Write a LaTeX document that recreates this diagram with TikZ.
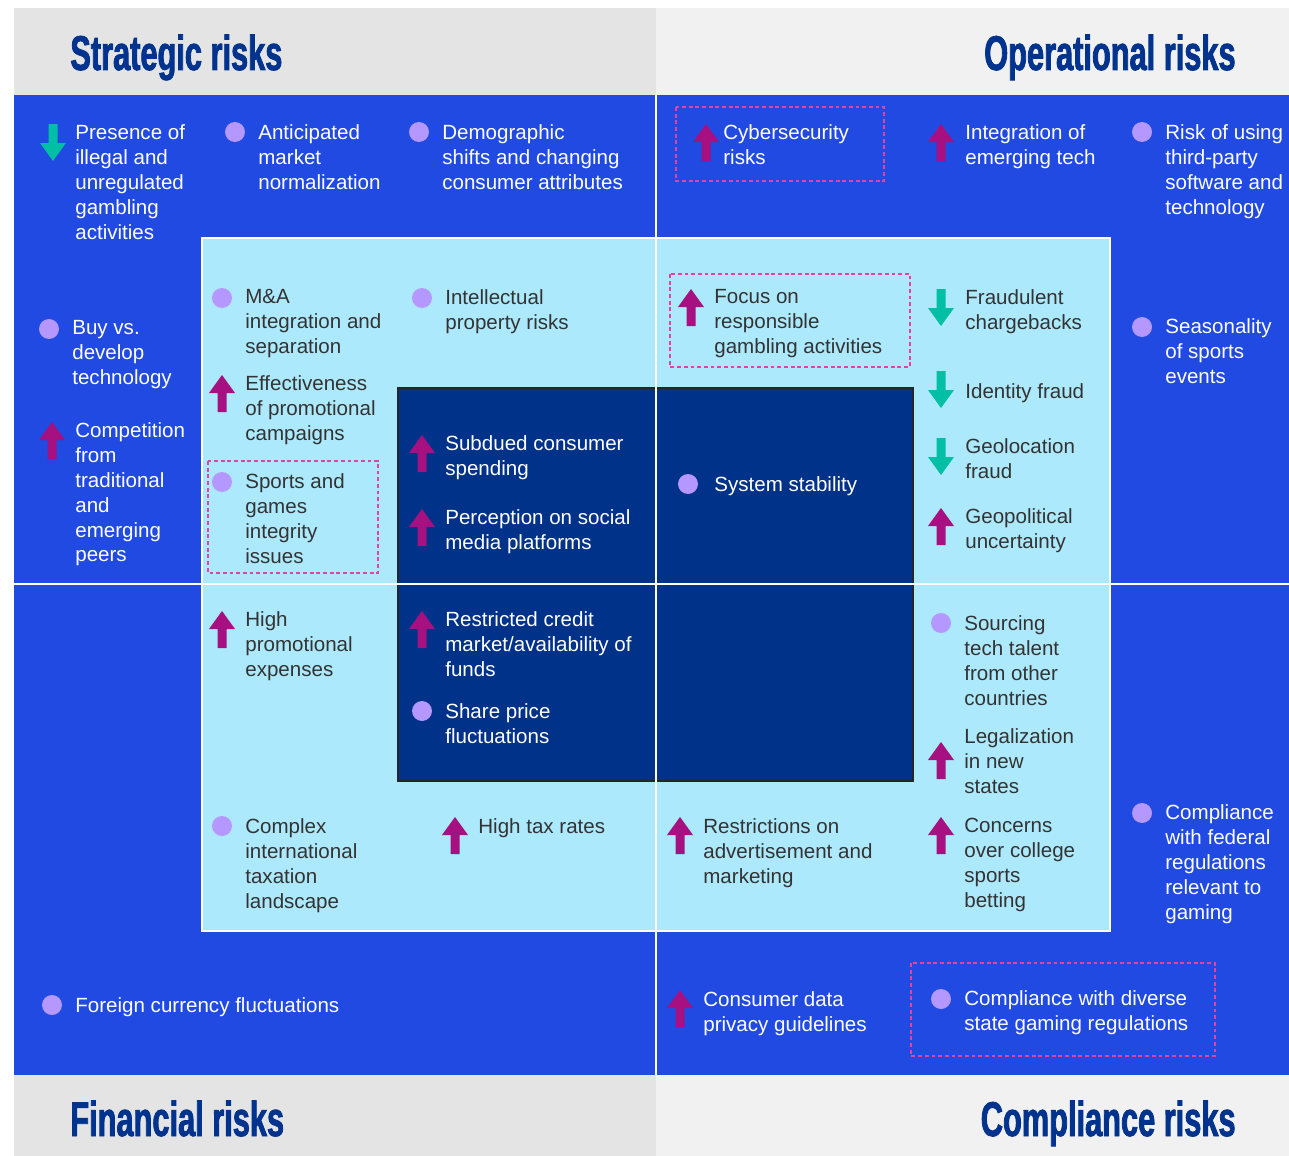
\documentclass[tikz,border=0pt]{standalone}
\usepackage{fontspec}
\setmainfont{Liberation Sans}
\newfontfamily\headfont[FakeStretch=0.63,FakeBold=1.6]{Liberation Sans}

\definecolor{bgblue}{RGB}{32,74,225}
\definecolor{midcyan}{RGB}{173,233,252}
\definecolor{corenavy}{RGB}{0,50,138}
\definecolor{headgray}{RGB}{228,228,228}
\definecolor{headlight}{RGB}{241,241,241}
\definecolor{headblue}{RGB}{0,51,141}
\definecolor{upmag}{RGB}{166,16,128}
\definecolor{downteal}{RGB}{0,191,165}
\definecolor{dotlav}{RGB}{180,152,255}
\definecolor{dashpink}{RGB}{232,64,160}
\definecolor{darktxt}{RGB}{51,51,51}

\tikzset{
  rup/.pic={\fill[upmag] (-4.5,37) -- (-4.5,18) -- (-13,18) -- (0,0) -- (13,18) -- (4.5,18) -- (4.5,37) -- cycle;},
  rdown/.pic={\fill[downteal] (-4.5,0) -- (-4.5,19) -- (-13,19) -- (0,37) -- (13,19) -- (4.5,19) -- (4.5,0) -- cycle;}
}

\begin{document}
\begin{tikzpicture}[x=0.02cm,y=-0.02cm,
  dot/.style={shape=circle, fill=dotlav, minimum size=0.4cm, inner sep=0},
  txt/.style={anchor=north west, inner sep=0, align=left, font=\fontsize{11.7}{14.2}\selectfont, text=white},
  txtd/.style={txt, text=darktxt},
  head/.style={inner sep=0, text=headblue, font=\headfont\bfseries\fontsize{27.8}{30}\selectfont},
  dashbox/.style={draw=dashpink, line width=0.6pt, dash pattern=on 2.2pt off 1.6pt}]

\useasboundingbox (0,0) rectangle (1289,1156);

% bands and quadrants
\fill[headgray] (14,8) rectangle (656,95);
\fill[headlight] (656,8) rectangle (1289,95);
\fill[bgblue] (14,95) rectangle (1289,1075);
\fill[headgray] (14,1075) rectangle (656,1156);
\fill[headlight] (656,1075) rectangle (1289,1156);
\filldraw[fill=midcyan, draw=white, line width=1.2pt] (202,238) rectangle (1110,931);
\filldraw[fill=corenavy, draw=black!85, line width=1.3pt] (398,388) rectangle (913,781);
\draw[white, line width=0.8pt] (656,95) -- (656,1075);
\draw[white, line width=0.8pt] (14,584) -- (1289,584);

\path (70,70) node (HS) [head, anchor=base west] {Strategic risks};
\path (1236,70) node (HO) [head, anchor=base east] {Operational risks};
\path (70,1136) node (HF) [head, anchor=base west] {Financial risks};
\path (1236,1136) node (HC) [head, anchor=base east] {Compliance risks};

\draw[dashbox] (676,107) rectangle (884,181);
\draw[dashbox] (670,274) rectangle (910,367);
\draw[dashbox] (208,461) rectangle (378,573);
\draw[dashbox] (911,963) rectangle (1215,1056);

% strategic
\path (53,124) pic (iS1) {rdown};
\path (75,124) node (S1) [txt] {Presence of\\illegal and\\unregulated\\gambling\\activities};
\path (235,132) node (iS2) [dot] {};
\path (258,124) node (S2) [txt] {Anticipated\\market\\normalization};
\path (419,132) node (iS3) [dot] {};
\path (442,124) node (S3) [txt] {Demographic\\shifts and changing\\consumer attributes};
\path (49,329) node (iS4) [dot] {};
\path (72,320) node (S4) [txt] {Buy vs.\\develop\\technology};
\path (52,422) pic (iS5) {rup};
\path (75,422) node (S5) [txt] {Competition\\from\\traditional\\and\\emerging\\peers};
\path (222,298) node (iS6) [dot] {};
\path (245,289) node (S6) [txtd] {M\&A\\integration and\\separation};
\path (422,298) node (iS7) [dot] {};
\path (445,289) node (S7) [txtd] {Intellectual\\property risks};
\path (222,375) pic (iS8) {rup};
\path (245,375) node (S8) [txtd] {Effectiveness\\of promotional\\campaigns};
\path (222,482) node (iS9) [dot] {};
\path (245,473) node (S9) [txtd] {Sports and\\games\\integrity\\issues};
\path (422,435) pic (iS10) {rup};
\path (445,435) node (S10) [txt] {Subdued consumer\\spending};
\path (422,509) pic (iS11) {rup};
\path (445,509) node (S11) [txt] {Perception on social\\media platforms};

% operational
\path (688,484) node (iO1) [dot] {};
\path (714,476) node (O1) [txt] {System stability};
\path (706,124) pic (iO2) {rup};
\path (723,124) node (O2) [txt] {Cybersecurity\\risks};
\path (941,124) pic (iO3) {rup};
\path (965,124) node (O3) [txt] {Integration of\\emerging tech};
\path (1142,132) node (iO4) [dot] {};
\path (1165,124) node (O4) [txt] {Risk of using\\third-party\\software and\\technology};
\path (691,289) pic (iO5) {rup};
\path (714,289) node (O5) [txtd] {Focus on\\responsible\\gambling activities};
\path (941,289) pic (iO6) {rdown};
\path (965,289) node (O6) [txtd] {Fraudulent\\chargebacks};
\path (941,371) pic (iO7) {rdown};
\path (965,383) node (O7) [txtd] {Identity fraud};
\path (941,438) pic (iO8) {rdown};
\path (965,438) node (O8) [txtd] {Geolocation\\fraud};
\path (941,508) pic (iO9) {rup};
\path (965,508) node (O9) [txtd] {Geopolitical\\uncertainty};
\path (1142,327) node (iO10) [dot] {};
\path (1165,318) node (O10) [txt] {Seasonality\\of sports\\events};

% financial
\path (222,611) pic (iF1) {rup};
\path (245,611) node (F1) [txtd] {High\\promotional\\expenses};
\path (422,611) pic (iF2) {rup};
\path (445,611) node (F2) [txt] {Restricted credit\\market/availability of\\funds};
\path (422,711) node (iF3) [dot] {};
\path (445,703) node (F3) [txt] {Share price\\fluctuations};
\path (222,826) node (iF4) [dot] {};
\path (245,818) node (F4) [txtd] {Complex\\international\\taxation\\landscape};
\path (455,817) pic (iF5) {rup};
\path (478,818) node (F5) [txtd] {High tax rates};
\path (52,1005) node (iF6) [dot] {};
\path (75,997) node (F6) [txt] {Foreign currency fluctuations};

% compliance
\path (680,817) pic (iC1) {rup};
\path (703,818) node (C1) [txtd] {Restrictions on\\advertisement and\\marketing};
\path (941,623) node (iC2) [dot] {};
\path (964,615) node (C2) [txtd] {Sourcing\\tech talent\\from other\\countries};
\path (941,742) pic (iC3) {rup};
\path (964,728) node (C3) [txtd] {Legalization\\in new\\states};
\path (941,817) pic (iC4) {rup};
\path (964,818) node (C4) [txtd] {Concerns\\over college\\sports\\betting};
\path (1142,813) node (iC5) [dot] {};
\path (1165,804) node (C5) [txt] {Compliance\\with federal\\regulations\\relevant to\\gaming};
\path (680,990) pic (iC6) {rup};
\path (703,991) node (C6) [txt] {Consumer data\\privacy guidelines};
\path (941,999) node (iC7) [dot] {};
\path (964,990) node (C7) [txt] {Compliance with diverse\\state gaming regulations};

\end{tikzpicture}
\end{document}
